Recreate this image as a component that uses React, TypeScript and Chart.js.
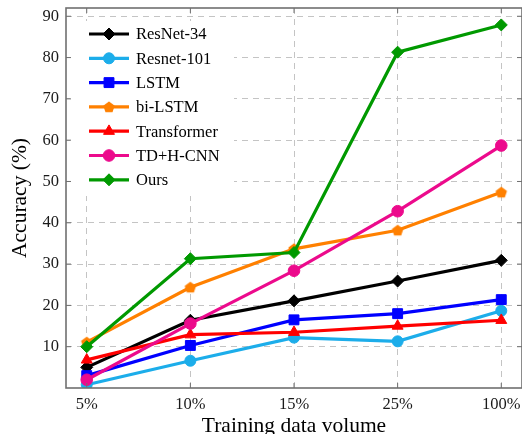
import React, { useEffect, useRef } from "react";
import { Chart, registerables } from "chart.js";
import { drawPoint } from "chart.js/helpers";

Chart.register(...registerables);

const categories = ["5%", "10%", "15%", "25%", "100%"];
const yTickValues = [10, 20, 30, 40, 50, 60, 70, 80, 90];

const seriesNames = ["ResNet-34", "Resnet-101", "LSTM", "bi-LSTM", "Transformer", "TD+H-CNN", "Ours"];
const resnet34 = [5.0, 16.4, 21.1, 25.9, 30.9];
const resnet101 = [0.8, 6.6, 12.2, 11.3, 18.7];
const lstm = [3.0, 10.3, 16.5, 18.0, 21.4];
const biLstm = [11.1, 24.4, 33.7, 38.2, 47.4];
const transformer = [6.8, 12.9, 13.5, 15.0, 16.4];
const tdhcnn = [2.0, 15.6, 28.4, 42.8, 58.7];
const ours = [10.0, 31.3, 32.8, 81.3, 87.9];

const seriesValues = [resnet34, resnet101, lstm, biLstm, transformer, tdhcnn, ours];
const seriesColors = ["#000000", "#1cadea", "#0000ff", "#ff8000", "#ff0000", "#ec0a8c", "#009900"];
const seriesMarkers = ["rectRot", "circle", "rect", "pentagon", "triangle", "circle", "rectRot"];
const markerRadius = [6, 5.5, 7, 6, 6.3, 5.8, 6];

const FONT = "'Liberation Serif', 'Times New Roman', serif";

function makePentagon(color: string, r: number): HTMLCanvasElement {
  const size = Math.ceil(r * 2 + 2);
  const c = document.createElement("canvas");
  c.width = size;
  c.height = size;
  const ctx = c.getContext("2d")!;
  const cx = size / 2;
  const cy = size / 2 + 0.5;
  ctx.beginPath();
  for (let k = 0; k < 5; k++) {
    const a = -Math.PI / 2 + (k * 2 * Math.PI) / 5;
    const px = cx + r * Math.cos(a);
    const py = cy + r * Math.sin(a);
    if (k === 0) ctx.moveTo(px, py);
    else ctx.lineTo(px, py);
  }
  ctx.closePath();
  ctx.fillStyle = color;
  ctx.fill();
  return c;
}

export default function App() {
  const ref = useRef<HTMLCanvasElement | null>(null);

  useEffect(() => {
    document.documentElement.style.overflow = "hidden";
    document.body.style.margin = "0";
    document.body.style.overflow = "hidden";
    const canvas = ref.current;
    if (!canvas) return;

    const styles = seriesMarkers.map((m, i) =>
      m === "pentagon" ? makePentagon(seriesColors[i], markerRadius[i]) : m
    );

    const datasets = seriesNames.map((name, i) => ({
      label: name,
      data: seriesValues[i].map((y, k) => ({ x: k, y })),
      borderColor: seriesColors[i],
      backgroundColor: seriesColors[i],
      pointBackgroundColor: seriesColors[i],
      pointBorderColor: seriesColors[i],
      pointBorderWidth: 1,
      pointStyle: styles[i] as any,
      pointRadius: markerRadius[i],
      borderWidth: 3.2,
      tension: 0,
      order: 20 - i,
    }));

    const framePlugin = {
      id: "frame",
      afterDraw(chart: any) {
        const { ctx, chartArea } = chart;
        const { left, right, top, bottom } = chartArea;
        const xs = chart.scales.x;
        const ys = chart.scales.y;
        ctx.save();
        ctx.strokeStyle = "#707070";
        ctx.lineWidth = 1;
        ctx.beginPath();
        for (let k = 0; k < categories.length; k++) {
          const px = xs.getPixelForValue(k);
          ctx.moveTo(px, top);
          ctx.lineTo(px, top + 5);
          ctx.moveTo(px, bottom);
          ctx.lineTo(px, bottom - 5);
        }
        for (const v of yTickValues) {
          const py = ys.getPixelForValue(v);
          ctx.moveTo(left, py);
          ctx.lineTo(left + 5, py);
          ctx.moveTo(right, py);
          ctx.lineTo(right - 5, py);
        }
        ctx.stroke();
        ctx.lineWidth = 1.6;
        ctx.strokeRect(left, top, right - left, bottom - top);
        ctx.restore();
      },
    };

    const legendPlugin = {
      id: "customLegend",
      afterDatasetsDraw(chart: any) {
        const { ctx } = chart;
        ctx.save();
        ctx.fillStyle = "#ffffff";
        ctx.fillRect(70, 21, 164, 175);
        seriesNames.forEach((name, i) => {
          const y = 34 + 24.3 * i;
          ctx.strokeStyle = seriesColors[i];
          ctx.fillStyle = seriesColors[i];
          ctx.lineWidth = 3.2;
          ctx.beginPath();
          ctx.moveTo(89, y);
          ctx.lineTo(129, y);
          ctx.stroke();
          ctx.lineWidth = 1;
          drawPoint(ctx, { pointStyle: styles[i] as any, rotation: 0, radius: markerRadius[i], borderWidth: 1 } as any, 109, y);
          ctx.fillStyle = "#000000";
          ctx.font = `16.5px ${FONT}`;
          ctx.textBaseline = "middle";
          ctx.textAlign = "left";
          ctx.fillText(name, 136, y + 1);
        });
        ctx.restore();
      },
    };

    const chart = new Chart(canvas, {
      type: "line",
      data: { datasets: datasets as any },
      options: {
        animation: false,
        responsive: false,
        devicePixelRatio: 1,
        layout: { padding: { top: 6, right: 4, left: 0, bottom: 0 } },
        plugins: {
          legend: { display: false },
          tooltip: { enabled: false },
        },
        scales: {
          x: {
            type: "linear",
            min: -0.2,
            max: 4.2,
            afterBuildTicks: (s: any) => {
              s.ticks = categories.map((_, k) => ({ value: k }));
            },
            afterFit: (s: any) => {
              s.height = 46;
              s.paddingLeft = 0;
              s.paddingRight = 0;
              s.paddingTop = 0;
              s.paddingBottom = 0;
            },
            ticks: {
              callback: (v: any) => categories[Math.round(Number(v))] ?? "",
              font: { family: FONT, size: 16.5 },
              color: "#1a1a1a",
              padding: 7,
              maxRotation: 0,
              autoSkip: false,
            },
            grid: { color: "#c4c4c4", lineWidth: 1, drawTicks: false },
            border: { display: false, dash: [6, 5] },
            title: {
              display: true,
              text: "Training data volume",
              font: { family: FONT, size: 21.5, lineHeight: 1 },
              color: "#000000",
              padding: { top: 0, bottom: -3 },
            },
          },
          y: {
            type: "linear",
            min: 0,
            max: 92,
            afterBuildTicks: (s: any) => {
              s.ticks = yTickValues.map((v) => ({ value: v }));
            },
            afterFit: (s: any) => {
              s.width = 66;
              s.paddingTop = 0;
              s.paddingBottom = 0;
              s.paddingLeft = 0;
              s.paddingRight = 0;
            },
            ticks: {
              font: { family: FONT, size: 16.5 },
              color: "#1a1a1a",
              padding: 7,
            },
            grid: { color: "#c4c4c4", lineWidth: 1, drawTicks: false },
            border: { display: false, dash: [6, 5] },
            title: {
              display: true,
              text: "Accuracy (%)",
              font: { family: FONT, size: 21.5, lineHeight: 1 },
              color: "#000000",
              padding: { top: 9.5, bottom: 0 },
            },
          },
        },
      },
      plugins: [legendPlugin, framePlugin],
    });

    return () => chart.destroy();
  }, []);

  return (
    <div style={{ width: 530, height: 434, overflow: "hidden" }}>
      <canvas ref={ref} width={530} height={434} style={{ display: "block" }} />
    </div>
  );
}
